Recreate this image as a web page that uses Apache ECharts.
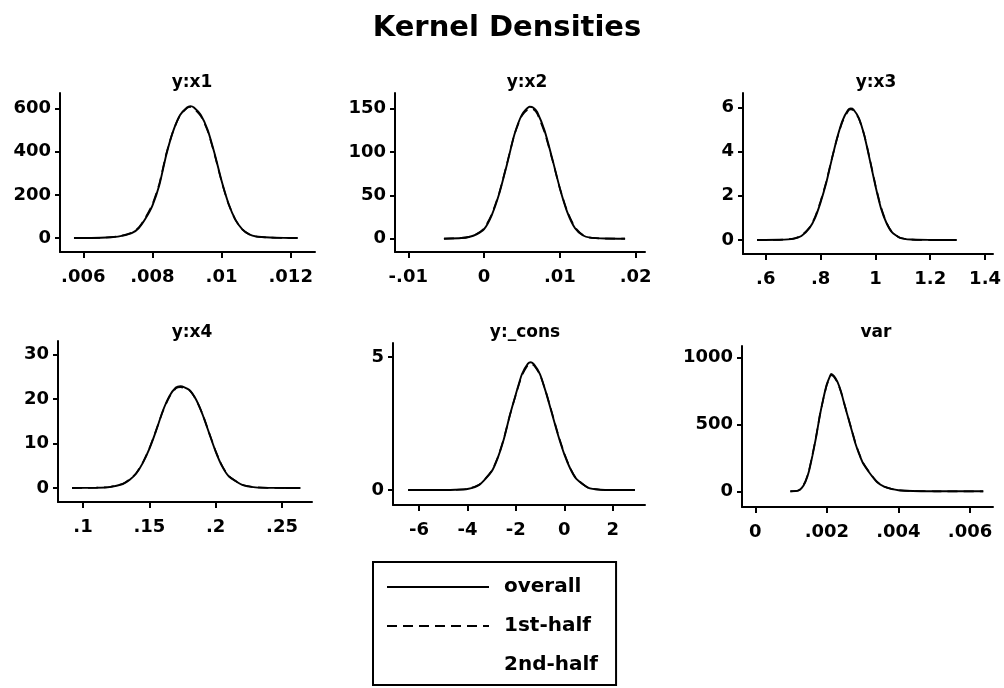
<!DOCTYPE html>
<html>
<head>
<meta charset="utf-8">
<style>
  html, body { margin: 0; padding: 0; background: #fff; }
  #chart { width: 1004px; height: 688px; }
</style>
<script src="https://cdn.jsdelivr.net/npm/echarts@6/dist/echarts.min.js"></script>
</head>
<body>
<div id="chart"></div>
<script>
// Kernel density estimates of the posterior draws, overall and split by half.

// y:x1
const x1Grid    = [0.00573,0.0065,0.0070,0.0074,0.0076,0.0078,0.0080,0.0082,0.0084,0.0086,0.0088,0.0090,0.0091,0.0092,0.0094,0.0096,0.0098,0.0100,0.0102,0.0104,0.0106,0.0108,0.0110,0.0114,0.0118,0.0122];
const x1Overall = [0,1,6,22,45,90,150,245,385,495,570,605,611,605,570,500,390,265,160,85,40,17,7,2,0.5,0];
const x1First   = [0,1,7,24,48,95,156,252,390,497,568,602,607,600,565,495,386,262,158,84,40,17,7,2,0.5,0];
const x1Second  = [0,1,5,20,42,85,144,238,380,493,572,608,615,610,575,505,394,268,162,86,40,17,7,2,0.5,0];
const x1Ticks   = [0.006,0.008,0.01,0.012];
const x1YTicks  = [0,200,400,600];

// y:x2
const x2Grid    = [-0.0053,-0.003,-0.002,-0.001,0,0.001,0.002,0.003,0.004,0.005,0.006,0.0065,0.007,0.008,0.009,0.010,0.011,0.012,0.013,0.014,0.016,0.0186];
const x2Overall = [0,0.8,2,5,11,27,52,85,120,143,152,151,146,124,92,58,30,12,4,1.2,0.2,0];
const x2First   = [0,0.9,2.2,5.5,12,28,53,86,120,142,150,149,144,122,91,58,31,13,4.5,1.3,0.2,0];
const x2Second  = [0,0.7,1.8,4.5,10,26,51,84,120,144,154,153,148,126,93,58,29,11,3.5,1.1,0.2,0];
const x2Ticks   = [-0.01,0,0.01,0.02];
const x2YTicks  = [0,50,100,150];

// y:x3
const x3Grid    = [0.568,0.65,0.70,0.73,0.76,0.78,0.80,0.82,0.84,0.86,0.88,0.90,0.91,0.92,0.94,0.96,0.98,1.00,1.02,1.04,1.06,1.09,1.13,1.20,1.297];
const x3Overall = [0,0.01,0.05,0.18,0.55,1.0,1.7,2.55,3.6,4.6,5.4,5.88,5.95,5.9,5.5,4.7,3.6,2.45,1.45,0.78,0.36,0.1,0.02,0.003,0];
const x3First   = [0,0.01,0.06,0.2,0.58,1.05,1.75,2.6,3.62,4.58,5.35,5.82,5.9,5.86,5.48,4.72,3.64,2.5,1.5,0.8,0.37,0.1,0.02,0.003,0];
const x3Second  = [0,0.01,0.04,0.16,0.52,0.95,1.65,2.5,3.58,4.62,5.45,5.94,6.0,5.94,5.52,4.68,3.56,2.4,1.4,0.76,0.35,0.1,0.02,0.003,0];
const x3Ticks   = [0.6,0.8,1,1.2,1.4];
const x3YTicks  = [0,2,4,6];

// y:x4
const x4Grid    = [0.0917,0.11,0.12,0.13,0.135,0.14,0.145,0.15,0.155,0.16,0.165,0.17,0.1735,0.18,0.185,0.19,0.195,0.20,0.205,0.21,0.22,0.23,0.245,0.2638];
const x4Overall = [0,0.05,0.2,0.9,1.8,3.2,5.6,8.8,12.8,17.2,20.6,22.6,22.9,22.1,20,16.6,12.4,8.2,4.8,2.6,0.7,0.15,0.02,0];
const x4First   = [0,0.06,0.22,0.95,1.9,3.3,5.7,8.9,12.9,17.1,20.4,22.4,22.7,22.0,20.0,16.7,12.5,8.3,4.9,2.7,0.75,0.16,0.02,0];
const x4Second  = [0,0.04,0.18,0.85,1.7,3.1,5.5,8.7,12.7,17.3,20.8,22.8,23.1,22.2,20.0,16.5,12.3,8.1,4.7,2.5,0.65,0.14,0.02,0];
const x4Ticks   = [0.1,0.15,0.2,0.25];
const x4YTicks  = [0,10,20,30];

// y:_cons
const consGrid    = [-6.45,-5,-4.5,-4,-3.5,-3,-2.75,-2.5,-2.25,-2,-1.75,-1.5,-1.38,-1.25,-1,-0.75,-0.5,-0.25,0,0.25,0.5,1,1.5,2,2.92];
const consOverall = [0,0.002,0.01,0.04,0.2,0.7,1.2,1.9,2.8,3.6,4.35,4.75,4.8,4.72,4.35,3.65,2.85,2.05,1.35,0.8,0.42,0.08,0.01,0,0];
const consFirst   = [0,0.002,0.01,0.045,0.21,0.72,1.22,1.92,2.8,3.58,4.3,4.7,4.75,4.68,4.33,3.66,2.88,2.08,1.38,0.82,0.43,0.08,0.01,0,0];
const consSecond  = [0,0.002,0.01,0.035,0.19,0.68,1.18,1.88,2.8,3.62,4.4,4.8,4.85,4.76,4.37,3.64,2.82,2.02,1.32,0.78,0.41,0.08,0.01,0,0];
const consTicks   = [-6,-4,-2,0,2];
const consYTicks  = [0,5];

// var
const varGrid    = [0.00098,0.0012,0.0013,0.0014,0.0015,0.0016,0.0017,0.0018,0.0019,0.0020,0.0021,0.00212,0.0022,0.0023,0.0024,0.0025,0.0026,0.0027,0.0028,0.0029,0.0030,0.0032,0.0034,0.0036,0.0038,0.0040,0.0044,0.0050,0.00637];
const varOverall = [0,5,25,70,150,270,405,560,690,800,868,876,860,815,740,640,545,450,355,280,215,135,70,35,18,8,2,0.3,0];
const varFirst   = [0,6,27,74,156,276,410,562,688,795,860,868,853,810,738,642,548,454,360,284,218,138,72,36,18,8,2,0.3,0];
const varSecond  = [0,4,23,66,144,264,400,558,692,805,876,884,867,820,742,638,542,446,350,276,212,132,68,34,18,8,2,0.3,0];
const varTicks   = [0,0.002,0.004,0.006];
const varYTicks  = [0,500,1000];

const seriesNames = ['overall', '1st-half', '2nd-half'];

const FONT = 'DejaVu Sans';

// Panel frames: grid box, axis ranges and title.
const panels = [
  { title: 'y:x1',    grid: x1Grid,   lines: [x1Overall, x1First, x1Second],       xt: x1Ticks,   yt: x1YTicks,
    box: { left: 60,  top: 93,  width: 255, height: 159 }, xr: [0.005326, 0.012703], yr: [-65, 672],      tx: 187, ty: 69 },
  { title: 'y:x2',    grid: x2Grid,   lines: [x2Overall, x2First, x2Second],       xt: x2Ticks,   yt: x2YTicks,
    box: { left: 395, top: 93,  width: 250, height: 159 }, xr: [-0.011755, 0.021227], yr: [-15.3, 167.9], tx: 522, ty: 69 },
  { title: 'y:x3',    grid: x3Grid,   lines: [x3Overall, x3First, x3Second],       xt: x3Ticks,   yt: x3YTicks,
    box: { left: 743, top: 93,  width: 250, height: 161 }, xr: [0.517, 1.429],    yr: [-0.633, 6.646], tx: 871, ty: 69 },
  { title: 'y:x4',    grid: x4Grid,   lines: [x4Overall, x4First, x4Second],       xt: x4Ticks,   yt: x4YTicks,
    box: { left: 58,  top: 341, width: 254, height: 161 }, xr: [0.08116, 0.2726], yr: [-3.15, 33.06], tx: 187, ty: 319 },
  { title: 'y:_cons', grid: consGrid, lines: [consOverall, consFirst, consSecond], xt: consTicks, yt: consYTicks,
    box: { left: 393, top: 343, width: 252, height: 162 }, xr: [-7.075, 3.336],  yr: [-0.5625, 5.525], tx: 520, ty: 319 },
  { title: 'var',     grid: varGrid,  lines: [varOverall, varFirst, varSecond],    xt: varTicks,  yt: varYTicks,
    box: { left: 742, top: 346, width: 251, height: 161 }, xr: [-0.000371, 0.006642], yr: [-117, 1084.5], tx: 871, ty: 319 }
];

// Stata-style tick text: no leading zero before the decimal point.
function tickText(v) {
  const s = String(Math.round(v * 1e6) / 1e6);
  return s.replace(/^(-?)0\./, '$1.');
}

const labelStyle = { color: '#000', fontFamily: FONT, fontWeight: 'bold', fontSize: 18 };

const lineStyles = [
  { color: '#000', width: 1.9, type: 'solid' },
  { color: '#000', width: 1.7, type: [10, 6] },
  { color: '#fff', width: 1,   type: 'dotted' }
];

const option = {
  backgroundColor: '#fff',
  animation: false,
  title: [
    { text: 'Kernel Densities', left: 502, top: 9, textAlign: 'center',
      textStyle: { color: '#000', fontFamily: FONT, fontWeight: 'bold', fontSize: 29 } }
  ].concat(panels.map(p => ({
    text: p.title, left: p.tx, top: p.ty, textAlign: 'center',
    textStyle: { color: '#000', fontFamily: FONT, fontWeight: 'bold', fontSize: 17 }
  }))),
  legend: {
    orient: 'vertical',
    left: 373, top: 562,
    width: 230, height: 112,
    data: seriesNames,
    itemWidth: 102, itemHeight: 14, itemGap: 19,
    padding: [15, 18, 10, 13],
    borderColor: '#000', borderWidth: 2, borderRadius: 0,
    selectedMode: false,
    itemStyle: { opacity: 0, borderWidth: 0 },
    textStyle: { color: '#000', fontFamily: FONT, fontWeight: 'bold', fontSize: 20, padding: [0, 0, 0, 10] }
  },
  grid: panels.map(p => Object.assign({ outerBoundsMode: 'none' }, p.box)),
  xAxis: panels.map((p, i) => ({
    type: 'value', gridIndex: i, min: p.xr[0], max: p.xr[1],
    splitLine: { show: false },
    axisLine: { show: true, onZero: false, lineStyle: { color: '#000', width: 2 } },
    axisTick: { show: true, length: 6, customValues: p.xt, lineStyle: { color: '#000', width: 2 } },
    axisLabel: Object.assign({ margin: 16, customValues: p.xt, formatter: tickText }, labelStyle)
  })),
  yAxis: panels.map((p, i) => ({
    type: 'value', gridIndex: i, min: p.yr[0], max: p.yr[1],
    splitLine: { show: false },
    axisLine: { show: true, onZero: false, lineStyle: { color: '#000', width: 2 } },
    axisTick: { show: true, length: 5, customValues: p.yt, lineStyle: { color: '#000', width: 2 } },
    axisLabel: Object.assign({ margin: 9, customValues: p.yt, formatter: tickText }, labelStyle)
  })),
  series: []
};

panels.forEach((p, i) => {
  // Draw the 2nd-half first so the overall and 1st-half curves sit on top.
  [2, 0, 1].forEach(k => {
    option.series.push({
      name: seriesNames[k],
      type: 'line',
      xAxisIndex: i, yAxisIndex: i,
      showSymbol: false, symbol: 'none',
      smooth: 0.2,
      data: p.grid.map((x, j) => [x, p.lines[k][j]]),
      lineStyle: lineStyles[k],
      itemStyle: { color: lineStyles[k].color },
      z: k === 2 ? 1 : (k === 1 ? 3 : 2)
    });
  });
});

const chart = echarts.init(document.getElementById('chart'), null, { renderer: 'canvas' });
chart.setOption(option);
</script>
</body>
</html>
